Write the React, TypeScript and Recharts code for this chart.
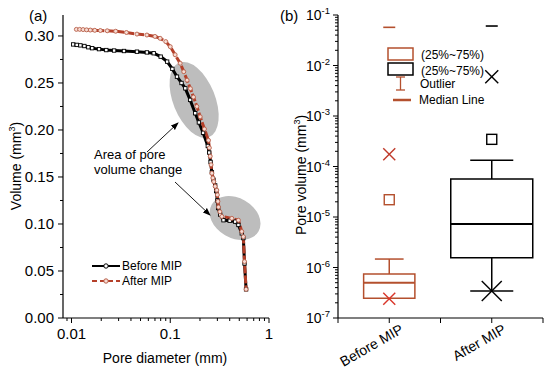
import React from 'react';
import {
  LineChart,
  Line,
  XAxis,
  YAxis,
  ReferenceDot,
  ComposedChart,
  Scatter,
  ReferenceArea,
  ReferenceLine,
} from 'recharts';

const FONT = '"Liberation Sans", Arial, Helvetica, sans-serif';
const BROWN = '#B4502E';

// ---- (a) cumulative volume vs pore diameter ----
const beforeDiameter = [
  0.0104, 0.0113, 0.0123, 0.0135, 0.0148, 0.0162, 0.019, 0.0225, 0.027, 0.034, 0.046, 0.058, 0.068, 0.08,
  0.093, 0.105, 0.117, 0.13, 0.142, 0.159, 0.179, 0.195, 0.215, 0.24, 0.248, 0.256, 0.264, 0.274, 0.285,
  0.292, 0.3, 0.306, 0.32, 0.346, 0.4, 0.454, 0.49, 0.53, 0.55, 0.565, 0.586,
];
const beforeVolume = [
  0.291, 0.2905, 0.29, 0.2893, 0.288, 0.287, 0.286, 0.285, 0.2845, 0.284, 0.2833, 0.2825, 0.2816, 0.278,
  0.2727, 0.265, 0.2567, 0.25, 0.2443, 0.232, 0.2178, 0.208, 0.197, 0.183, 0.176, 0.166, 0.155, 0.147, 0.141,
  0.135, 0.125, 0.117, 0.11, 0.104, 0.1035, 0.1025, 0.099, 0.09, 0.085, 0.058, 0.0305,
];
const afterDiameter = [
  0.0112, 0.0121, 0.0131, 0.0142, 0.0155, 0.0172, 0.0196, 0.023, 0.028, 0.036, 0.046, 0.058, 0.07, 0.079,
  0.09, 0.1, 0.112, 0.126, 0.137, 0.148, 0.16, 0.172, 0.186, 0.201, 0.222, 0.244, 0.249, 0.254, 0.259, 0.264,
  0.27, 0.276, 0.285, 0.296, 0.3, 0.304, 0.308, 0.318, 0.333, 0.42, 0.49, 0.53, 0.55, 0.565, 0.586,
];
const afterVolume = [
  0.307, 0.307, 0.3068, 0.3065, 0.3063, 0.306, 0.3058, 0.3055, 0.305, 0.3037, 0.302, 0.301, 0.2995, 0.2975,
  0.294, 0.2886, 0.28, 0.271, 0.262, 0.253, 0.244, 0.235, 0.225, 0.214, 0.201, 0.189, 0.181, 0.172, 0.163,
  0.154, 0.149, 0.145, 0.14, 0.136, 0.131, 0.124, 0.118, 0.113, 0.108, 0.106, 0.104, 0.092, 0.0865, 0.06, 0.0305,
];

const diameterTicks = [
  0.009, 0.01, 0.02, 0.03, 0.04, 0.05, 0.06, 0.07, 0.08, 0.09, 0.1, 0.2, 0.3, 0.4, 0.5, 0.6, 0.7, 0.8, 0.9, 1,
];
const volumeTicks = [0, 0.025, 0.05, 0.075, 0.1, 0.125, 0.15, 0.175, 0.2, 0.225, 0.25, 0.275, 0.3];

// grey "area of pore volume change" marks (centre in data units)
const changeAreaDiameter = [0.1745, 0.4535];
const changeAreaVolume = [0.232, 0.1064];

// ---- (b) box plot of pore volume ----
const groups = ['Before MIP', 'After MIP'];
const groupPos = [1, 2];
const q1 = [2.45e-7, 1.56e-6];
const median = [5.0e-7, 7.3e-6];
const q3 = [7.4e-7, 5.65e-5];
const whiskerLow = [2.45e-7, 3.43e-7];
const whiskerHigh = [1.47e-6, 1.33e-4];
const meanValue = [2.2e-5, 3.45e-4];
const crossValue = [1.74e-4, 6.0e-3];
const minValue = [2.4e-7, 3.43e-7];
const maxValue = [0.057, 0.0605];
const poreTicks = [1e-7, 1e-6, 1e-5, 1e-4, 1e-3, 1e-2, 1e-1];

const beforeData = beforeDiameter.map((x, i) => ({ x, y: beforeVolume[i] }));
const afterData = afterDiameter.map((x, i) => ({ x, y: afterVolume[i] }));

const poreMinor: number[] = [];
poreTicks.slice(0, -1).forEach((t) => {
  poreMinor.push(t);
  for (let k = 2; k <= 9; k++) poreMinor.push(t * k);
});
poreMinor.push(1e-1);

const isDecade = (v: number) => Math.abs(Math.log10(v) - Math.round(Math.log10(v))) < 1e-6;
const isVolMajor = (v: number) => Math.abs(v * 20 - Math.round(v * 20)) < 1e-6;

const boxColor = [BROWN, '#000'];
const boxHalf = [0.25, 0.4];
const capHalf = [0.14, 0.21];

const DiameterTick = (p: any) => {
  const major = isDecade(p.payload.value);
  const len = major ? 5 : 3;
  return (
    <g>
      <line x1={p.x} x2={p.x} y1={p.y} y2={p.y + len} stroke="#000" />
      {major && (
        <text x={p.x} y={p.y + 21} textAnchor="middle" fontSize={15} fontFamily={FONT} fill="#000">
          {p.payload.value}
        </text>
      )}
    </g>
  );
};
const DiameterTopTick = (p: any) => {
  const len = isDecade(p.payload.value) ? 5 : 3;
  return <line x1={p.x} x2={p.x} y1={p.y} y2={p.y + len} stroke="#000" />;
};
const VolumeTick = (p: any) => {
  const major = isVolMajor(p.payload.value);
  const len = major ? 5 : 3;
  return (
    <g>
      <line x1={p.x - len} x2={p.x} y1={p.y} y2={p.y} stroke="#000" />
      {major && (
        <text x={p.x - 9} y={p.y + 5} textAnchor="end" fontSize={15} fontFamily={FONT} fill="#000">
          {p.payload.value.toFixed(2)}
        </text>
      )}
    </g>
  );
};
const VolumeRightTick = (p: any) => {
  const len = isVolMajor(p.payload.value) ? 5 : 3;
  return <line x1={p.x - len} x2={p.x} y1={p.y} y2={p.y} stroke="#000" />;
};

const PoreTick = (p: any) => {
  const v = p.payload.value;
  const major = isDecade(v);
  const len = major ? 5 : 3;
  return (
    <g>
      <line x1={p.x - len} x2={p.x} y1={p.y} y2={p.y} stroke="#000" />
      {major && (
        <text x={p.x - 8} y={p.y + 5} textAnchor="end" fontSize={14} fontFamily={FONT} fill="#000">
          10
          <tspan dy={-6} fontSize={9.5}>
            {String(Math.round(Math.log10(v)))}
          </tspan>
        </text>
      )}
    </g>
  );
};
const GroupTick = (p: any) => {
  const v = p.payload.value;
  const idx = groupPos.indexOf(v);
  const ax = p.x + 15;
  const ay = p.y + 14;
  return (
    <g>
      <line x1={p.x} x2={p.x} y1={p.y} y2={p.y + 5} stroke="#000" />
      {idx >= 0 && (
        <text
          x={ax}
          y={ay}
          textAnchor="end"
          fontSize={14}
          fontFamily={FONT}
          fill="#000"
          transform={`rotate(-30 ${ax} ${ay})`}
        >
          {groups[idx]}
        </text>
      )}
    </g>
  );
};

const squareDot = (p: any) => (
  <rect key={`b${p.index}`} x={p.cx - 1.7} y={p.cy - 1.7} width={3.4} height={3.4} fill="#fff" stroke="#000" strokeWidth={0.9} />
);
const circleDot = (p: any) => (
  <circle key={`a${p.index}`} cx={p.cx} cy={p.cy} r={2} fill="#F7DCD4" stroke="#B8604A" strokeWidth={0.9} />
);

const crossShape = (size: number, color: string) => (p: any) => (
  <g>
    <line x1={p.cx - size} y1={p.cy - size} x2={p.cx + size} y2={p.cy + size} stroke={color} strokeWidth={1.4} />
    <line x1={p.cx - size} y1={p.cy + size} x2={p.cx + size} y2={p.cy - size} stroke={color} strokeWidth={1.4} />
  </g>
);
const squareShape = (color: string) => (p: any) => (
  <rect x={p.cx - 5} y={p.cy - 5} width={10} height={10} fill="#fff" stroke={color} strokeWidth={1.4} />
);
const dashShape = (color: string) => (p: any) => (
  <line x1={p.cx - 6} x2={p.cx + 6} y1={p.cy} y2={p.cy} stroke={color} strokeWidth={1.6} />
);

const axisLine = { stroke: '#000', strokeWidth: 1.2 };
const leftMargin = { top: 15, right: 11, bottom: 0, left: 0 };

export default function App() {
  return (
    <div style={{ position: 'absolute', left: 0, top: 0, width: 550, height: 376, background: '#fff', fontFamily: FONT }}>
      {/* grey highlight ellipses, drawn in a chart underneath so they sit behind the curves */}
      <div style={{ position: 'absolute', left: 0, top: 0 }}>
        <LineChart width={280} height={376} margin={{ top: 15, right: 11, bottom: 58, left: 63 }}>
          <XAxis dataKey="x" type="number" scale="log" domain={[0.0082, 1]} allowDataOverflow hide />
          <YAxis type="number" domain={[0, 0.3223]} allowDataOverflow hide />
          <ReferenceDot
            x={changeAreaDiameter[0]}
            y={changeAreaVolume[0]}
            shape={(p: any) => (
              <ellipse cx={p.cx} cy={p.cy} rx={21} ry={40} fill="#BDBDBD" transform={`rotate(-22 ${p.cx} ${p.cy})`} />
            )}
          />
          <ReferenceDot
            x={changeAreaDiameter[1]}
            y={changeAreaVolume[1]}
            shape={(p: any) => (
              <ellipse cx={p.cx} cy={p.cy} rx={27} ry={20} fill="#BDBDBD" transform={`rotate(30 ${p.cx} ${p.cy})`} />
            )}
          />
        </LineChart>
      </div>

      <div style={{ position: 'absolute', left: 0, top: 0 }}>
        <LineChart width={280} height={376} margin={leftMargin}>
          <XAxis
            dataKey="x"
            type="number"
            scale="log"
            domain={[0.0082, 1]}
            allowDataOverflow
            ticks={diameterTicks}
            interval={0}
            height={58}
            tickSize={0}
            tickMargin={0}
            tickLine={false}
            axisLine={axisLine}
            tick={DiameterTick}
          />
          <XAxis
            xAxisId="top"
            orientation="top"
            type="number"
            scale="log"
            domain={[0.0082, 1]}
            allowDataOverflow
            ticks={diameterTicks}
            interval={0}
            height={0}
            tickSize={0}
            tickMargin={0}
            tickLine={false}
            axisLine={axisLine}
            tick={DiameterTopTick}
          />
          <YAxis
            type="number"
            domain={[0, 0.3223]}
            allowDataOverflow
            ticks={volumeTicks}
            interval={0}
            width={63}
            tickSize={0}
            tickMargin={0}
            tickLine={false}
            axisLine={axisLine}
            tick={VolumeTick}
          />
          <YAxis
            yAxisId="right"
            orientation="right"
            type="number"
            domain={[0, 0.3223]}
            allowDataOverflow
            ticks={volumeTicks}
            interval={0}
            width={0}
            tickSize={0}
            tickMargin={0}
            tickLine={false}
            axisLine={axisLine}
            tick={VolumeRightTick}
          />
          <Line
            data={beforeData}
            dataKey="y"
            type="linear"
            stroke="#000"
            strokeWidth={3}
            dot={squareDot}
            activeDot={false}
            isAnimationActive={false}
          />
          <Line
            data={afterData}
            dataKey="y"
            type="linear"
            stroke="#B5402A"
            strokeWidth={3}
            strokeDasharray="8 2"
            dot={circleDot}
            activeDot={false}
            isAnimationActive={false}
          />
        </LineChart>
      </div>

      <div style={{ position: 'absolute', left: 280, top: 0 }}>
        <ComposedChart width={270} height={376} margin={{ top: 15, right: 7, bottom: 0, left: 0 }}>
          <XAxis
            dataKey="x"
            type="number"
            domain={[0.5, 2.5]}
            allowDataOverflow
            ticks={[0.5, 1, 1.5, 2, 2.5]}
            interval={0}
            height={58}
            tickSize={0}
            tickMargin={0}
            tickLine={false}
            axisLine={axisLine}
            tick={GroupTick}
          />
          <XAxis
            xAxisId="top"
            orientation="top"
            type="number"
            domain={[0.5, 2.5]}
            allowDataOverflow
            height={0}
            tick={false}
            tickLine={false}
            axisLine={axisLine}
          />
          <YAxis
            dataKey="y"
            type="number"
            scale="log"
            domain={[1e-7, 1e-1]}
            allowDataOverflow
            ticks={poreMinor}
            interval={0}
            width={58}
            tickSize={0}
            tickMargin={0}
            tickLine={false}
            axisLine={axisLine}
            tick={PoreTick}
          />
          <YAxis
            yAxisId="right"
            orientation="right"
            type="number"
            scale="log"
            domain={[1e-7, 1e-1]}
            allowDataOverflow
            width={0}
            tick={false}
            tickLine={false}
            axisLine={axisLine}
          />
          {groupPos.map((x, i) => (
            <ReferenceArea
              key={`box${i}`}
              x1={x - boxHalf[i]}
              x2={x + boxHalf[i]}
              y1={q1[i]}
              y2={q3[i]}
              fill="#fff"
              fillOpacity={1}
              stroke={boxColor[i]}
              strokeWidth={1.5}
            />
          ))}
          {groupPos.map((x, i) => (
            <ReferenceLine
              key={`med${i}`}
              segment={[
                { x: x - boxHalf[i], y: median[i] },
                { x: x + boxHalf[i], y: median[i] },
              ]}
              stroke={boxColor[i]}
              strokeWidth={2}
            />
          ))}
          {groupPos.map((x, i) => (
            <ReferenceLine
              key={`wh${i}`}
              segment={[
                { x, y: q3[i] },
                { x, y: whiskerHigh[i] },
              ]}
              stroke={boxColor[i]}
              strokeWidth={1.5}
            />
          ))}
          {groupPos.map((x, i) => (
            <ReferenceLine
              key={`whc${i}`}
              segment={[
                { x: x - capHalf[i], y: whiskerHigh[i] },
                { x: x + capHalf[i], y: whiskerHigh[i] },
              ]}
              stroke={boxColor[i]}
              strokeWidth={1.5}
            />
          ))}
          {groupPos.map((x, i) =>
            whiskerLow[i] < q1[i] ? (
              <ReferenceLine
                key={`wl${i}`}
                segment={[
                  { x, y: q1[i] },
                  { x, y: whiskerLow[i] },
                ]}
                stroke={boxColor[i]}
                strokeWidth={1.5}
              />
            ) : null,
          )}
          {groupPos.map((x, i) =>
            whiskerLow[i] < q1[i] ? (
              <ReferenceLine
                key={`wlc${i}`}
                segment={[
                  { x: x - capHalf[i], y: whiskerLow[i] },
                  { x: x + capHalf[i], y: whiskerLow[i] },
                ]}
                stroke={boxColor[i]}
                strokeWidth={1.5}
              />
            ) : null,
          )}
          <Scatter data={[{ x: groupPos[0], y: meanValue[0] }]} shape={squareShape(BROWN)} isAnimationActive={false} />
          <Scatter data={[{ x: groupPos[1], y: meanValue[1] }]} shape={squareShape('#000')} isAnimationActive={false} />
          <Scatter data={[{ x: groupPos[0], y: crossValue[0] }]} shape={crossShape(6, '#C03A2A')} isAnimationActive={false} />
          <Scatter data={[{ x: groupPos[1], y: crossValue[1] }]} shape={crossShape(6.5, '#000')} isAnimationActive={false} />
          <Scatter data={[{ x: groupPos[0], y: minValue[0] }]} shape={crossShape(6, '#D9362A')} isAnimationActive={false} />
          <Scatter data={[{ x: groupPos[1], y: minValue[1] }]} shape={crossShape(10, '#000')} isAnimationActive={false} />
          <Scatter data={[{ x: groupPos[0], y: maxValue[0] }]} shape={dashShape(BROWN)} isAnimationActive={false} />
          <Scatter data={[{ x: groupPos[1], y: maxValue[1] }]} shape={dashShape('#000')} isAnimationActive={false} />
        </ComposedChart>
      </div>

      <svg
        width={550}
        height={376}
        style={{ position: 'absolute', left: 0, top: 0, pointerEvents: 'none' }}
        fontFamily={FONT}
      >
        <defs>
          <marker id="arrow" markerWidth="8" markerHeight="8" refX="7" refY="4" orient="auto" markerUnits="userSpaceOnUse">
            <path d="M0,1 L8,4 L0,7 z" fill="#000" />
          </marker>
        </defs>
        <text x={29} y={21} fontSize={15}>(a)</text>
        <text x={280} y={21} fontSize={15}>(b)</text>

        <text transform="translate(21 166) rotate(-90)" textAnchor="middle" fontSize={14}>
          Volume (mm<tspan dy={-6} fontSize={9}>3</tspan>
          <tspan dy={6}>)</tspan>
        </text>
        <text x={165} y={363} textAnchor="middle" fontSize={14}>Pore diameter (mm)</text>
        <text transform="translate(306 175) rotate(-90)" textAnchor="middle" fontSize={14}>
          Pore volume (mm<tspan dy={-6} fontSize={9}>3</tspan>
          <tspan dy={6}>)</tspan>
        </text>

        <text x={94} y={159} fontSize={13}>Area of pore</text>
        <text x={94} y={174} fontSize={13}>volume change</text>
        <line x1={147} y1={152} x2={178} y2={123} stroke="#000" strokeWidth={0.9} markerEnd="url(#arrow)" />
        <line x1={175} y1={182} x2={210} y2={215} stroke="#000" strokeWidth={0.9} markerEnd="url(#arrow)" />

        <line x1={92} y1={266} x2={120} y2={266} stroke="#000" strokeWidth={2} />
        <circle cx={106} cy={266} r={2.2} fill="#fff" stroke="#000" />
        <text x={122} y={270} fontSize={12}>Before MIP</text>
        <line x1={92} y1={281} x2={120} y2={281} stroke="#B5402A" strokeWidth={2} strokeDasharray="5 3" />
        <circle cx={106} cy={281} r={2.2} fill="#F7DCD4" stroke="#B8604A" />
        <text x={122} y={285} fontSize={12}>After MIP</text>

        <rect x={388} y={48} width={25} height={12} fill="#fff" stroke={BROWN} strokeWidth={1.5} />
        <text x={421} y={59} fontSize={12}>(25%~75%)</text>
        <rect x={388} y={63} width={25} height={12} fill="#fff" stroke="#000" strokeWidth={1.5} />
        <text x={421} y={75} fontSize={12}>(25%~75%)</text>
        <line x1={400.5} x2={400.5} y1={77} y2={90} stroke={BROWN} strokeWidth={1.3} />
        <line x1={396} x2={405} y1={77} y2={77} stroke={BROWN} strokeWidth={1.3} />
        <line x1={396} x2={405} y1={90} y2={90} stroke={BROWN} strokeWidth={1.3} />
        <text x={420} y={88} fontSize={12}>Outlier</text>
        <line x1={393} x2={411} y1={100} y2={100} stroke={BROWN} strokeWidth={2.5} />
        <text x={419} y={104} fontSize={12}>Median Line</text>
      </svg>
    </div>
  );
}
